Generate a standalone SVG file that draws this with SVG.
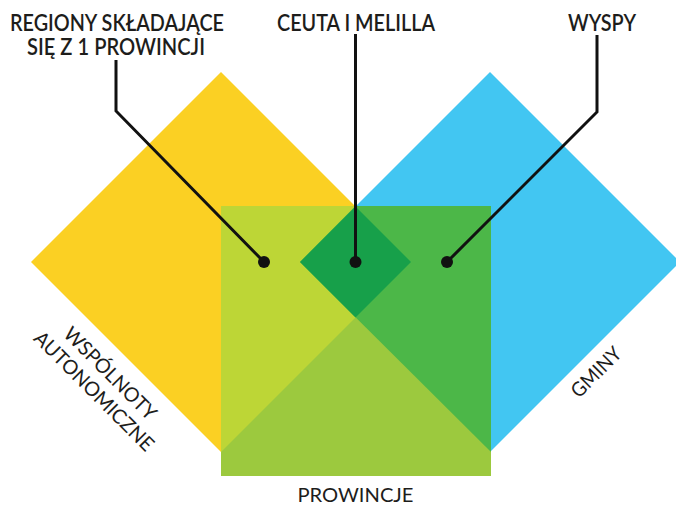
<svg xmlns="http://www.w3.org/2000/svg" width="676" height="506" viewBox="0 0 676 506">
<style>
.lbl{font-family:Lato,"Liberation Sans",sans-serif;fill:#1d1d1b;font-size:22px;font-weight:600}
.lbl2{font-family:Lato,"Liberation Sans",sans-serif;fill:#1d1d1b;font-size:20px}
.lead{fill:none;stroke:#111;stroke-width:3}
.dot{fill:#111}
</style>
<rect width="676" height="506" fill="#fff"/>
<g id="wspolnoty">
<polygon points="221,72 411,262 221,452 31,262" fill="#FBD023"/>
</g>
<g id="gminy">
<polygon points="490,72 680,262 490,452 300,262" fill="#42C6F2"/>
</g>
<g id="prowincje">
<rect x="221" y="206" width="270" height="270" fill="#9CC93E"/>
<polygon points="221,206 355.5,206 411,262 221,452" fill="#BDD636"/>
<polygon points="355.5,206 491,206 491,452 300,262" fill="#4CB748"/>
</g>
<g id="ceuta-melilla">
<polygon points="355.5,206.5 411,262 355.5,317.5 300,262" fill="#17A04A"/>
</g>
<g id="connectors">
<polyline class="lead" points="116,60 116,111 264,262"/>
<line class="lead" x1="355.5" y1="34" x2="355.5" y2="262"/>
<polyline class="lead" points="597,35 597,112 447,262"/>
<circle class="dot" cx="264" cy="262" r="6"/>
<circle class="dot" cx="355.5" cy="262" r="6"/>
<circle class="dot" cx="447" cy="262" r="6"/>
</g>
<g id="labels">
<text class="lbl" x="117" y="31" text-anchor="middle" textLength="214" lengthAdjust="spacingAndGlyphs">REGIONY SKŁADAJĄCE</text>
<text class="lbl" x="116" y="55" text-anchor="middle" textLength="178" lengthAdjust="spacingAndGlyphs">SIĘ Z 1 PROWINCJI</text>
<text class="lbl" x="356" y="31" text-anchor="middle" textLength="158" lengthAdjust="spacingAndGlyphs">CEUTA I MELILLA</text>
<text class="lbl" x="602" y="31" text-anchor="middle" textLength="68" lengthAdjust="spacingAndGlyphs">WYSPY</text>
<text class="lbl2" x="355.5" y="502" text-anchor="middle" textLength="116" lengthAdjust="spacingAndGlyphs">PROWINCJE</text>
<g transform="rotate(45)">
<text class="lbl2" x="342" y="193" text-anchor="middle" textLength="122" lengthAdjust="spacingAndGlyphs">WSPÓLNOTY</text>
<text class="lbl2" x="343" y="217" text-anchor="middle" textLength="160" lengthAdjust="spacingAndGlyphs">AUTONOMICZNE</text>
</g>
<text class="lbl2" transform="translate(601,377) rotate(-45)" x="0" y="0" text-anchor="middle" textLength="62" lengthAdjust="spacingAndGlyphs">GMINY</text>
</g>
</svg>
